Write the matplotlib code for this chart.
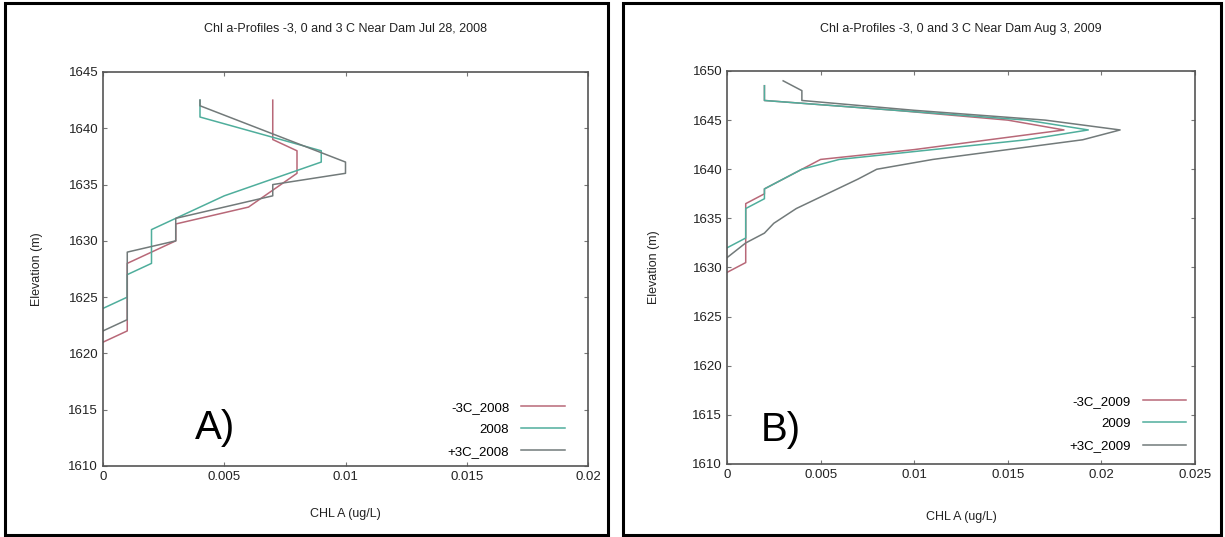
import matplotlib
matplotlib.use('Agg')
import matplotlib.pyplot as plt
from matplotlib.patches import Rectangle

plt.rcParams['font.family'] = ['Liberation Sans', 'DejaVu Sans']

# Panel A: Jul 28, 2008
elev_m3_2008 = [1642.5, 1639, 1638, 1636, 1634.5, 1633, 1631.5, 1630, 1629, 1628, 1622, 1621]
chl_m3_2008 = [0.007, 0.007, 0.008, 0.008, 0.007, 0.006, 0.003, 0.003, 0.002, 0.001, 0.001, 0.0]
elev_2008 = [1642.5, 1641, 1638, 1637, 1634, 1632, 1631, 1628, 1627, 1625, 1624]
chl_2008 = [0.004, 0.004, 0.009, 0.009, 0.005, 0.003, 0.002, 0.002, 0.001, 0.001, 0.0]
elev_p3_2008 = [1642.5, 1642, 1637, 1636, 1635, 1634, 1633, 1632, 1630, 1629, 1623, 1622]
chl_p3_2008 = [0.004, 0.004, 0.010, 0.010, 0.007, 0.007, 0.005, 0.003, 0.003, 0.001, 0.001, 0.0]

# Panel B: Aug 3, 2009
elev_m3_2009 = [1648.5, 1647, 1646, 1645, 1644, 1643, 1642, 1641, 1640, 1638, 1637.5, 1636.5, 1630.5, 1629.5]
chl_m3_2009 = [0.002, 0.002, 0.009, 0.015, 0.018, 0.014, 0.010, 0.005, 0.004, 0.002, 0.002, 0.001, 0.001, 0.0]
elev_2009 = [1648.5, 1647, 1646, 1645, 1644, 1643, 1642, 1641, 1640, 1638, 1637, 1636, 1633, 1632]
chl_2009 = [0.002, 0.002, 0.009, 0.016, 0.0193, 0.016, 0.011, 0.006, 0.004, 0.002, 0.002, 0.001, 0.001, 0.0]
elev_p3_2009 = [1649, 1648, 1647, 1646, 1645, 1644, 1643, 1642, 1641, 1640, 1639, 1636, 1634.5, 1633.5, 1632.5, 1631]
chl_p3_2009 = [0.003, 0.004, 0.004, 0.010, 0.017, 0.021, 0.019, 0.015, 0.011, 0.008, 0.007, 0.0037, 0.0025, 0.002, 0.001, 0.0]

c_minus = '#b86878'
c_base = '#4fae9c'
c_plus = '#727a7a'

fig = plt.figure(figsize=(12.25, 5.37), dpi=100)

# outer frames around each panel
fig.patches.append(Rectangle((5/1225, 2/537), 603/1225, 532/537, transform=fig.transFigure,
                             fill=False, edgecolor='black', linewidth=2.2))
fig.patches.append(Rectangle((623/1225, 2/537), 598/1225, 532/537, transform=fig.transFigure,
                             fill=False, edgecolor='black', linewidth=2.2))


def style_axes(ax):
    for s in ax.spines.values():
        s.set_color('#555555')
        s.set_linewidth(1.2)
    ax.tick_params(direction='in', length=3, top=True, right=True, labelsize=9.5,
                   color='#777777', labelcolor='#222222')


def add_legend(ax, anchor):
    ax.legend(loc='lower right', bbox_to_anchor=anchor, frameon=False, markerfirst=False,
              fontsize=9.5, handlelength=3.3, handletextpad=0.9, labelspacing=0.75,
              borderaxespad=0.0, borderpad=0.3)


ax1 = fig.add_axes([103/1225, 1 - 466/537, 485/1225, 394/537])
ax1.plot(chl_m3_2008, elev_m3_2008, color=c_minus, lw=1.1, label='-3C_2008')
ax1.plot(chl_2008, elev_2008, color=c_base, lw=1.1, label='2008')
ax1.plot(chl_p3_2008, elev_p3_2008, color=c_plus, lw=1.1, label='+3C_2008')
ax1.set_xlim(0, 0.02)
ax1.set_ylim(1610, 1645)
ax1.set_xticks([0, 0.005, 0.01, 0.015, 0.02])
ax1.set_xticklabels(['0', '0.005', '0.01', '0.015', '0.02'])
ax1.set_yticks(range(1610, 1646, 5))
ax1.set_title('Chl a-Profiles -3, 0 and 3 C Near Dam Jul 28, 2008', fontsize=9, pad=29, color='#222222')
ax1.set_xlabel('CHL A (ug/L)', fontsize=9, labelpad=18, color='#222222')
ax1.set_ylabel('Elevation (m)', fontsize=9, labelpad=18, color='#222222')
style_axes(ax1)
add_legend(ax1, (0.96, 0.01))
ax1.text(0.0046, 1613.4, 'A)', fontsize=29, ha='center', va='center')

ax2 = fig.add_axes([727/1225, 1 - 464/537, 468/1225, 393/537])
ax2.plot(chl_m3_2009, elev_m3_2009, color=c_minus, lw=1.1, label='-3C_2009')
ax2.plot(chl_2009, elev_2009, color=c_base, lw=1.1, label='2009')
ax2.plot(chl_p3_2009, elev_p3_2009, color=c_plus, lw=1.1, label='+3C_2009')
ax2.set_xlim(0, 0.025)
ax2.set_ylim(1610, 1650)
ax2.set_xticks([0, 0.005, 0.01, 0.015, 0.02, 0.025])
ax2.set_xticklabels(['0', '0.005', '0.01', '0.015', '0.02', '0.025'])
ax2.set_yticks(range(1610, 1651, 5))
ax2.set_title('Chl a-Profiles -3, 0 and 3 C Near Dam Aug 3, 2009', fontsize=9, pad=28, color='#222222')
ax2.set_xlabel('CHL A (ug/L)', fontsize=9, labelpad=22, color='#222222')
ax2.set_ylabel('Elevation (m)', fontsize=9, labelpad=23, color='#222222')
style_axes(ax2)
add_legend(ax2, (0.99, 0.02))
ax2.text(0.0029, 1613.5, 'B)', fontsize=29, ha='center', va='center')

fig.savefig('out.png', dpi=100)
